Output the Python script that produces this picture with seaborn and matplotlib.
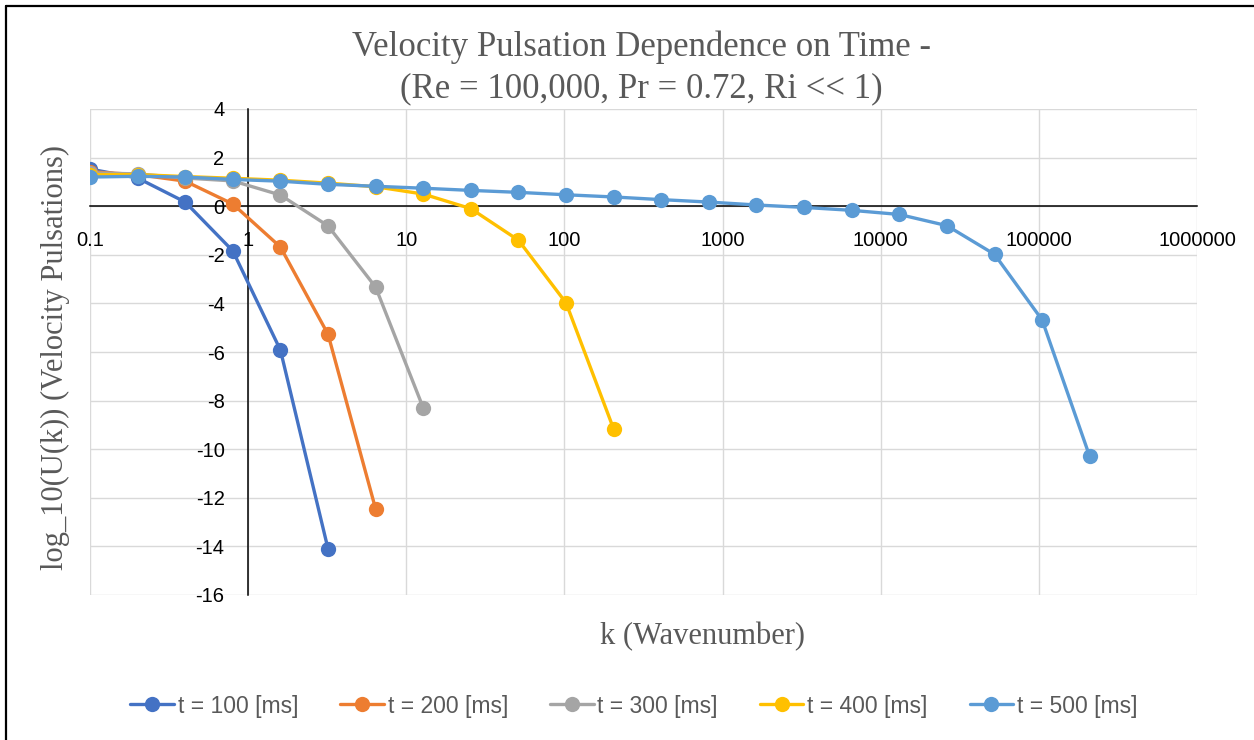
import matplotlib
matplotlib.use("Agg")
import matplotlib.pyplot as plt
from matplotlib.lines import Line2D
import numpy as np
import pandas as pd
import seaborn as sns

# Wavenumbers (doubling sequence starting at 0.1)
k_values = [0.1, 0.2, 0.4, 0.8, 1.6, 3.2, 6.4, 12.8, 25.6, 51.2, 102.4, 204.8,
            409.6, 819.2, 1638.4, 3276.8, 6553.6, 13107.2, 26214.4, 52428.8,
            104857.6, 209715.2]

# log10 of velocity pulsations for each time instant
u_t100 = [1.53, 1.16, 0.17, -1.84, -5.92, -14.1]
u_t200 = [1.42, 1.30, 1.03, 0.09, -1.68, -5.27, -12.46]
u_t300 = [1.37, 1.33, 1.16, 1.04, 0.46, -0.81, -3.33, -8.30]
u_t400 = [1.30, 1.30, 1.22, 1.15, 1.07, 0.95, 0.80, 0.50, -0.10, -1.40, -3.98, -9.17]
u_t500 = [1.20, 1.23, 1.20, 1.10, 1.03, 0.90, 0.82, 0.74, 0.65, 0.57, 0.47, 0.38,
          0.27, 0.17, 0.05, -0.05, -0.17, -0.34, -0.80, -1.98, -4.68, -10.30]

series_labels = ["t = 100 [ms]", "t = 200 [ms]", "t = 300 [ms]", "t = 400 [ms]", "t = 500 [ms]"]
series_values = [u_t100, u_t200, u_t300, u_t400, u_t500]
series_colors = ["#4472C4", "#ED7D31", "#A5A5A5", "#FFC000", "#5B9BD5"]

x_ticks = [0.1, 1, 10, 100, 1000, 10000, 100000, 1000000]
x_tick_labels = ["0.1", "1", "10", "100", "1000", "10000", "100000", "1000000"]
y_ticks = [4, 2, 0, -2, -4, -6, -8, -10, -12, -14, -16]

rows = []
for label, vals in zip(series_labels, series_values):
    for k, v in zip(k_values, vals):
        rows.append({"k": k, "u": v, "series": label})
df = pd.DataFrame(rows)

sns.set_theme(style="white")
plt.rcParams["font.family"] = ["Liberation Sans", "DejaVu Sans"]
plt.rcParams["axes.unicode_minus"] = False

W, H = 1254, 740
fig = plt.figure(figsize=(W / 100, H / 100), dpi=100)
ax = fig.add_axes([90 / W, 1 - 595 / H, (1197 - 90) / W, (595 - 109) / H])

sns.lineplot(data=df, x="k", y="u", hue="series", hue_order=series_labels,
             palette=series_colors, marker="o", markersize=11, linewidth=2.4,
             markeredgewidth=0, sort=False, legend=False, ax=ax)

ax.set_xscale("log")
ax.set_xlim(0.1, 1e6)
ax.set_ylim(-16, 4)
ax.set_xticks(x_ticks, x_tick_labels)
ax.set_yticks(y_ticks)
ax.minorticks_off()
ax.xaxis.set_minor_locator(matplotlib.ticker.NullLocator())

ax.set_axisbelow(True)
ax.grid(True, color="#D9D9D9", linewidth=1.0)

for side in ("top", "right"):
    ax.spines[side].set_visible(False)
ax.spines["left"].set_position(("data", 1))
ax.spines["bottom"].set_position(("data", 0))
for side in ("left", "bottom"):
    ax.spines[side].set_color("black")
    ax.spines[side].set_linewidth(1.1)
    ax.spines[side].set_zorder(1.5)

ax.tick_params(axis="both", length=0, labelsize=14.5, colors="black")
ax.tick_params(axis="y", pad=17)
ax.tick_params(axis="x", pad=18)
ax.set_xlabel("")
ax.set_ylabel("")

serif = ["Liberation Serif", "DejaVu Serif"]
fig.text(641 / W, 1 - 68 / H,
         "Velocity Pulsation Dependence on Time -\n(Re = 100,000, Pr = 0.72, Ri << 1)",
         ha="center", va="center", fontsize=25, color="#595959", family=serif,
         linespacing=1.35)
fig.text(703 / W, 1 - 637 / H, "k (Wavenumber)", ha="center", va="center",
         fontsize=22, color="#595959", family=serif)
fig.text(55 / W, 1 - 357 / H, "log_10(U(k)) (Velocity Pulsations)", ha="center",
         va="center", rotation=90, fontsize=22, color="#595959", family=serif)

ax.legend(ax.lines[:len(series_labels)], series_labels, loc="center",
          bbox_to_anchor=(634 / W, 1 - 706 / H), bbox_transform=fig.transFigure,
          ncol=5, frameon=False, fontsize=16.5, handlelength=1.9,
          handletextpad=0.17, columnspacing=1.83, labelcolor="#595959")

# Outer frame (left and top edges)
fig.add_artist(Line2D([6 / W, 6 / W], [0, 1 - 6 / H], color="black", linewidth=1.6,
                      transform=fig.transFigure))
fig.add_artist(Line2D([6 / W, 1], [1 - 6 / H, 1 - 6 / H], color="black", linewidth=1.6,
                      transform=fig.transFigure))

fig.savefig("out.png", dpi=100)
